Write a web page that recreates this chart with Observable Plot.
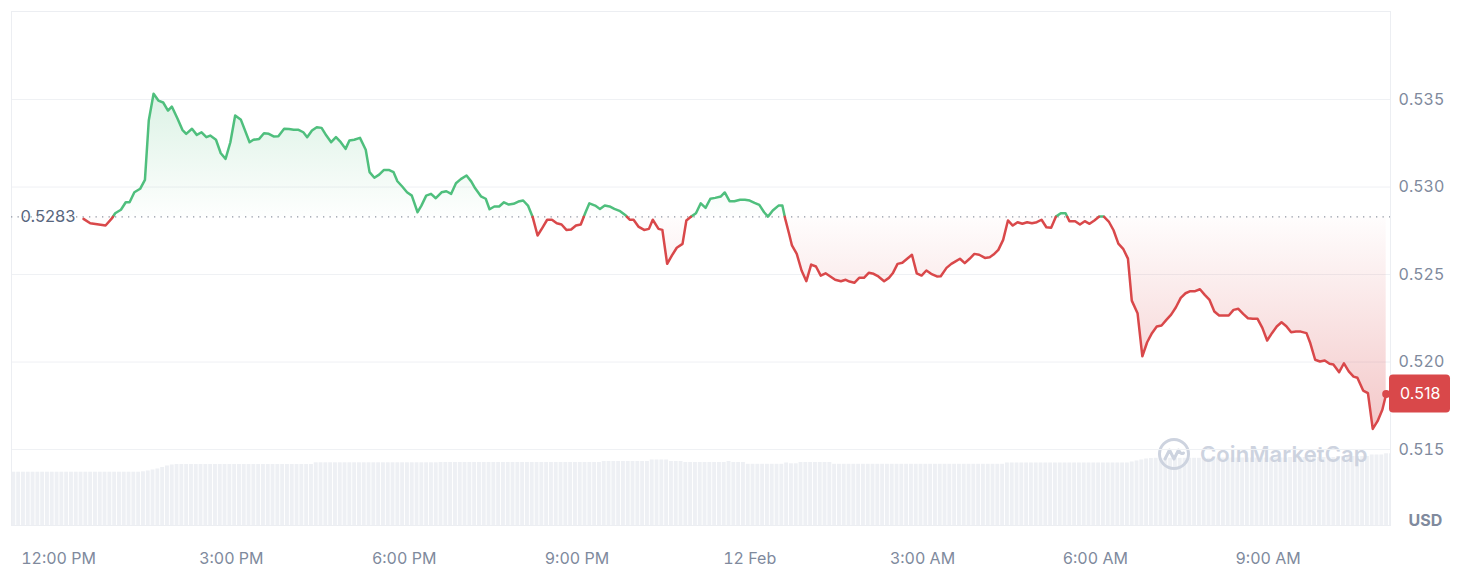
<!DOCTYPE html>
<html><head><meta charset="utf-8">
<script src="https://cdn.jsdelivr.net/npm/d3@7"></script>
<script src="https://cdn.jsdelivr.net/npm/@observablehq/plot@0.6"></script>
<style>
html,body{margin:0;padding:0;background:#fff;}
#wrap{position:relative;width:1462px;height:582px;font-family:Inter,"Noto Sans",sans-serif;overflow:hidden;}
#wrap > svg{position:absolute;left:0;top:0;}
.wm{position:absolute;left:1157px;top:437px;display:flex;align-items:center;gap:9px;color:#cdd3df;font-size:22px;font-weight:600;letter-spacing:0.1px;}
</style></head><body><div id="wrap"></div>
<script>
// ---- data ----
// minutes after 12:00 PM, 11 Feb
const priceMinutes = [26,33,42,49,56,59,65,70,74,79,85,90,94,99,104,109,114,118,124,129,133,139,144,149,154,158,164,169,174,179,184,190,199,203,209,214,219,224,229,235,240,245,250,255,259,264,269,274,279,284,289,294,299,303,308,314,320,324,329,334,339,344,349,353,358,363,368,374,378,383,388,393,399,404,409,414,419,425,430,434,440,445,449,454,459,464,469,474,479,484,489,494,499,504,509,514,519,524,529,534,539,544,549,553,559,564,569,574,579,585,591,595,599,604,610,615,619,625,629,634,639,644,650,654,659,664,669,674,679,684,690,694,699,704,710,715,720,725,730,735,739,744,750,754,757,761,764,769,774,779,784,789,794,799,804,809,815,820,824,829,834,839,844,849,854,860,865,869,874,879,884,889,894,899,904,909,915,919,925,930,934,939,944,949,954,959,965,970,974,979,984,989,994,999,1004,1009,1014,1019,1024,1029,1034,1039,1044,1049,1053,1059,1064,1069,1074,1079,1084,1089,1094,1099,1104,1109,1114,1118,1124,1129,1134,1139,1144,1149,1154,1159,1164,1169,1174,1179,1184,1189,1194,1199,1204,1209,1215,1219,1224,1229,1234,1239,1244,1249,1254,1259,1264,1269,1274,1279,1284,1289,1294,1300,1304,1309,1314,1319,1324,1328,1334,1339,1344,1349,1353,1359,1364,1369,1374,1379,1383];
const prices = [0.52818,0.52793,0.52786,0.5278,0.52824,0.5285,0.5287,0.52913,0.52913,0.5297,0.5299,0.53041,0.5338,0.53533,0.53494,0.53483,0.53437,0.5346,0.5339,0.53327,0.53304,0.53333,0.53298,0.53313,0.53285,0.53294,0.5327,0.53193,0.53161,0.53256,0.53409,0.53384,0.53256,0.5327,0.53275,0.53307,0.53304,0.53289,0.5329,0.53333,0.53331,0.53327,0.53327,0.53313,0.53285,0.53323,0.53342,0.53338,0.53294,0.53256,0.53285,0.53256,0.53218,0.53266,0.5327,0.53281,0.53213,0.53085,0.53053,0.53071,0.53098,0.53098,0.53085,0.53033,0.53003,0.5297,0.52951,0.52856,0.52894,0.52951,0.52961,0.52936,0.5297,0.52976,0.52961,0.53022,0.53045,0.53066,0.53031,0.52993,0.52947,0.52933,0.52873,0.52889,0.52889,0.52913,0.529,0.52904,0.52917,0.52923,0.52894,0.52827,0.52723,0.52767,0.52813,0.52813,0.52793,0.52786,0.52755,0.52757,0.5278,0.52786,0.52856,0.52907,0.52894,0.52875,0.52894,0.52889,0.52875,0.52862,0.52837,0.52813,0.52813,0.52774,0.52755,0.52761,0.52813,0.52761,0.52755,0.52561,0.52609,0.52653,0.52675,0.52809,0.52831,0.5285,0.52907,0.52881,0.52933,0.52938,0.52946,0.52969,0.52919,0.52919,0.52927,0.52927,0.52923,0.5291,0.52898,0.52856,0.52831,0.52866,0.52894,0.52894,0.52818,0.52733,0.52666,0.52618,0.52523,0.52462,0.52557,0.52546,0.52494,0.52507,0.52489,0.5247,0.52462,0.5247,0.5246,0.52453,0.52481,0.52481,0.5251,0.52504,0.52489,0.52462,0.52481,0.52507,0.52561,0.52567,0.5259,0.52613,0.52507,0.52494,0.52523,0.52504,0.52489,0.5249,0.52538,0.52561,0.52574,0.5259,0.52565,0.5259,0.52618,0.52613,0.52595,0.52599,0.52614,0.52641,0.52698,0.52809,0.5278,0.52799,0.5279,0.52799,0.52793,0.52799,0.52813,0.5277,0.52767,0.52831,0.5285,0.5285,0.52805,0.52805,0.52786,0.52805,0.5279,0.52809,0.52831,0.52831,0.52803,0.52753,0.52677,0.52647,0.52591,0.52351,0.52279,0.52033,0.52113,0.52165,0.52203,0.52209,0.52241,0.52271,0.52313,0.52367,0.52393,0.52405,0.52405,0.52416,0.52384,0.52355,0.52289,0.52266,0.52266,0.52266,0.52298,0.52304,0.52275,0.5225,0.52247,0.52247,0.52195,0.52123,0.52165,0.52203,0.52227,0.52205,0.5217,0.52174,0.52174,0.52165,0.52107,0.52013,0.52003,0.52009,0.5199,0.51986,0.51942,0.51993,0.51947,0.51917,0.5191,0.51837,0.51822,0.51618,0.51662,0.51727,0.51817];
const baseline = 0.5283;
const baselineLabel = "0.5283";
const lastPriceLabel = "0.518";
const volumeStartMinutes = -49; // 5-minute volume bars from 11:11 AM
const volumes = [
533,533,533,533,533,533,533,533,533,533,533,533,533,533,533,533,533,533,533,533,533,533,533,533,533,533,533,
537,545,555,565,580,595,605,
610,610,610,610,610,610,610,610,610,610,610,610,610,610,610,610,610,610,610,610,610,610,610,610,610,610,610,610,610,
627,627,627,627,627,627,627,627,627,627,627,627,627,627,627,627,627,627,627,627,627,627,627,627,627,627,
630,630,630,630,630,630,630,630,630,630,630,630,630,630,630,630,630,630,630,630,630,630,630,630,630,630,630,630,630,630,630,630,630,630,
640,640,640,640,640,640,640,640,640,640,
655,655,655,655,
640,640,640,
630,630,630,630,630,630,630,630,630,
640,
630,630,630,
612,612,612,612,612,612,612,612,
625,
617,617,
630,630,630,630,630,630,630,
612,612,612,612,612,612,612,612,612,612,612,612,612,612,612,612,612,612,612,612,612,612,612,612,612,612,612,612,612,612,612,612,612,612,612,612,
625,625,625,625,625,625,625,625,625,625,625,625,625,625,625,625,625,625,625,625,625,625,625,625,625,625,
635,645,655,665,670,
672,672,672,672,672,672,672,672,672,672,672,672,672,
675,675,675,675,675,675,675,675,675,675,675,675,675,675,675,
680,680,680,680,680,680,680,680,680,680,
690,690,690,690,690,690,690,
705,705,705,
717,717];
const yTicks = [0.515, 0.52, 0.525, 0.53, 0.535];
const xTickMinutes = [0, 180, 360, 540, 720, 900, 1080, 1260];
const xTickLabels = ["12:00 PM","3:00 PM","6:00 PM","9:00 PM","12 Feb","3:00 AM","6:00 AM","9:00 AM"];

// ---- build ----
const noon = new Date(2024, 1, 11, 12, 0, 0);
const at = m => new Date(+noon + m * 60000);
const n = Math.min(priceMinutes.length, prices.length);
const series = d3.range(n).map(i => ({t: at(priceMinutes[i]), p: prices[i]}));
const last = series[n - 1];

// split the series at the baseline so each side gets its own colour
const segs = [];
let segId = 0, isUp = series[0].p >= baseline;
segs.push({t: series[0].t, p: series[0].p, seg: segId, up: isUp});
for (let i = 1; i < n; ++i) {
  const a = series[i - 1], b = series[i], bUp = b.p >= baseline;
  if (bUp !== isUp) {
    const f = (baseline - a.p) / (b.p - a.p);
    const tc = new Date(+a.t + f * (b.t - a.t));
    segs.push({t: tc, p: baseline, seg: segId, up: isUp});
    segId++; isUp = bUp;
    segs.push({t: tc, p: baseline, seg: segId, up: isUp});
  }
  segs.push({t: b.t, p: b.p, seg: segId, up: isUp});
}
const segsUp = segs.filter(d => d.up), segsDown = segs.filter(d => !d.up);

const vol = volumes.map((v, i) => ({t0: at(volumeStartMinutes + 5 * i), t1: at(volumeStartMinutes + 5 * i + 5), v}));
const xDomain = [at(-49), at(1387.5)];
const yDomain = [0.51066, 0.54003];
const W = 1462, H = 582, mL = 11, mR = 72, mT = 11, mB = 57;
const GREEN = "#4fbf7d", RED = "#d9484a", GRAY = "#808a9d";
const common = {width: W, height: H, marginLeft: mL, marginRight: mR, marginTop: mT, marginBottom: mB};

const volPlot = Plot.plot({
  ...common,
  style: {background: "transparent"},
  x: {type: "time", domain: xDomain, axis: null},
  y: {domain: [0, 1000], range: [H - mB, H - mB - 100], axis: null},
  marks: [
    Plot.rectY(vol, {x1: "t0", x2: "t1", y: "v", fill: "#eef0f4", insetLeft: 0.4, insetRight: 0.5, clip: true})
  ]
});

const mainPlot = Plot.plot({
  ...common,
  style: {background: "transparent", fontFamily: "Inter, 'Noto Sans', sans-serif", fontSize: "16px", color: GRAY, overflow: "visible"},
  x: {type: "time", domain: xDomain, ticks: xTickMinutes.map(at), tickSize: 0, tickPadding: 27, label: null,
      tickFormat: d => xTickLabels[xTickMinutes.indexOf(Math.round((d - noon) / 60000))]},
  y: {domain: yDomain, axis: "right", ticks: yTicks, tickSize: 0, tickPadding: 8, label: null, tickFormat: d => d.toFixed(3)},
  marks: [
    Plot.ruleY(yTicks, {stroke: "#eff1f4", strokeWidth: 1}),
    Plot.frame({stroke: "#eceef2"}),
    Plot.areaY(segsUp, {x: "t", y1: baseline, y2: "p", z: "seg", fill: GREEN, fillOpacity: 0.12}),
    Plot.areaY(segsDown, {x: "t", y1: baseline, y2: "p", z: "seg", fill: RED, fillOpacity: 0.12}),
    Plot.ruleY([baseline], {stroke: "#8f96a3", strokeWidth: 1.3, strokeDasharray: "1.3,5.2"}),
    Plot.lineY(segsUp, {x: "t", y: "p", z: "seg", stroke: GREEN, strokeWidth: 2.5}),
    Plot.lineY(segsDown, {x: "t", y: "p", z: "seg", stroke: RED, strokeWidth: 2.5}),
    Plot.text([baseline], {y: d => d, frameAnchor: "left", dx: 9, textAnchor: "start", text: () => baselineLabel, fill: "#58667e", fontSize: 16.5}),
    Plot.dot([last], {x: "t", y: "p", r: 4, fill: RED}),
    Plot.text([last], {x: "t", y: "p", dx: 34, text: () => lastPriceLabel, fill: "#fff", fontSize: 16}),
    Plot.text(["USD"], {frameAnchor: "bottom-right", dx: 18, dy: 0, textAnchor: "start", text: d => d, fontWeight: 700, fill: GRAY, fontSize: 16})
  ]
});

// post-render: gradients for the areas and the price tag background
(function () {
  const NS = "http://www.w3.org/2000/svg";
  const ys = d3.scaleLinear(yDomain, [H - mB, mT]);
  const yb = ys(baseline);
  const el = (name, attrs, parent, before) => { const e = document.createElementNS(NS, name); for (const k in attrs) e.setAttribute(k, attrs[k]); if (before) parent.insertBefore(e, before); else parent.appendChild(e); return e; };
  const defs = el("defs", {}, mainPlot, mainPlot.firstChild);
  const gu = el("linearGradient", {id: "cmcGradUp", gradientUnits: "userSpaceOnUse", x1: 0, x2: 0, y1: ys(d3.max(prices)), y2: yb}, defs);
  el("stop", {offset: 0, "stop-color": GREEN, "stop-opacity": 0.2}, gu);
  el("stop", {offset: 1, "stop-color": GREEN, "stop-opacity": 0.01}, gu);
  const gd = el("linearGradient", {id: "cmcGradDown", gradientUnits: "userSpaceOnUse", x1: 0, x2: 0, y1: yb, y2: ys(d3.min(prices))}, defs);
  el("stop", {offset: 0, "stop-color": RED, "stop-opacity": 0.01}, gd);
  el("stop", {offset: 1, "stop-color": RED, "stop-opacity": 0.3}, gd);
  const groups = Array.from(mainPlot.querySelectorAll("g[aria-label]"));
  const areas = groups.filter(g => g.getAttribute("aria-label") === "area");
  const fills = ["url(#cmcGradUp)", "url(#cmcGradDown)"];
  areas.forEach((g, i) => {
    g.setAttribute("fill", fills[i]); g.removeAttribute("fill-opacity");
    g.querySelectorAll("path").forEach(p => { p.removeAttribute("fill"); p.removeAttribute("fill-opacity"); });
  });
  const texts = groups.filter(g => g.getAttribute("aria-label") === "text");
  const tagGroup = texts[1];
  if (tagGroup) {
    const yl = ys(last.p), x0 = W - mR - 1;
    el("rect", {x: x0, y: yl - 19, width: 61, height: 38, rx: 4, fill: RED}, mainPlot, tagGroup);
  }
})();

const wrap = document.getElementById("wrap");
wrap.appendChild(volPlot);
const wm = document.createElement("div");
wm.className = "wm";
wm.innerHTML = '<svg width="34" height="34" viewBox="-17 -17 34 34"><circle r="14.5" fill="none" stroke="#cdd3df" stroke-width="3"/><path d="M-9 5 L-4.5 -4 L0 5 L4.5 -4 Q7 1 9.5 -1" fill="none" stroke="#cdd3df" stroke-width="3" stroke-linejoin="round" stroke-linecap="round"/></svg><span>CoinMarketCap</span>';
wrap.appendChild(wm);
wrap.appendChild(mainPlot);
</script>
</body></html>
